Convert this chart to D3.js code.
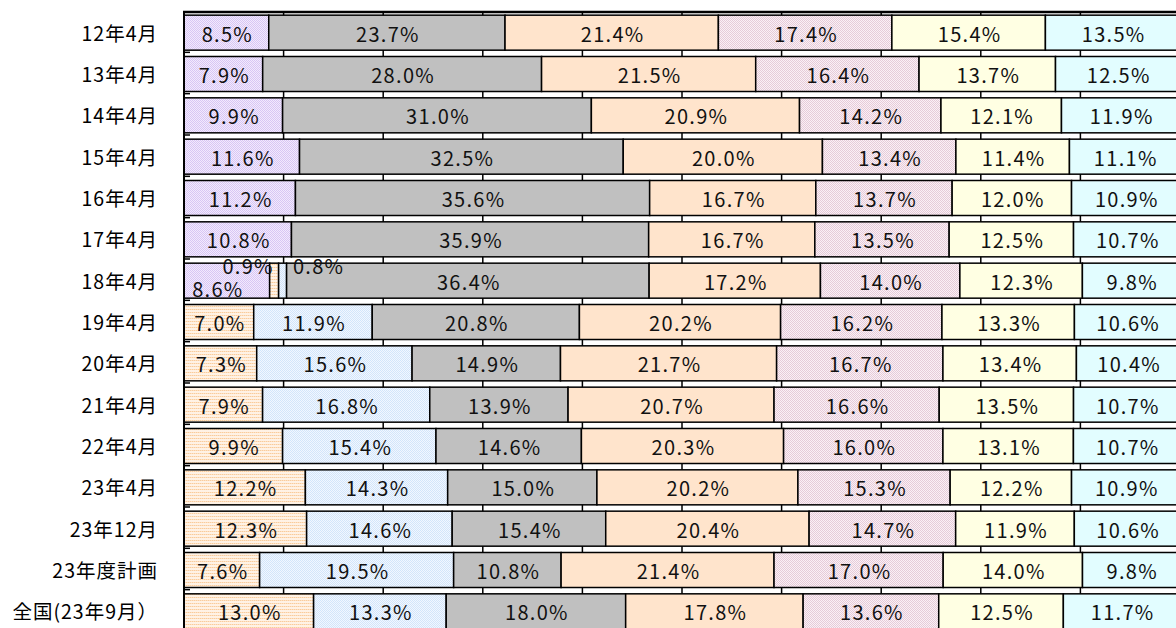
<!DOCTYPE html>
<html lang="ja">
<head>
<meta charset="UTF-8">
<title>要介護度別構成比</title>
<script src="https://d3js.org/d3.v7.min.js"></script>
<style>
    body { margin: 0; background: #fff; }
    .cat-label { font-family: "Noto Sans CJK JP", sans-serif; font-size: 19.5px; fill: #000; letter-spacing: 1px; }
    .val-label { font-family: "Noto Sans CJK JP", sans-serif; font-size: 20px; fill: #111; letter-spacing: 1.3px; }
</style>
</head>
<body>
<svg id="chart"></svg>
<script>
    // rows (top to bottom)
    const categories = ["12年4月", "13年4月", "14年4月", "15年4月", "16年4月", "17年4月", "18年4月",
        "19年4月", "20年4月", "21年4月", "22年4月", "23年4月", "23年12月", "23年度計画", "全国(23年9月）"];

    // stacked series, left to right
    const seriesNames = ["要支援", "要支援1", "要支援2", "要介護1", "要介護2", "要介護3", "要介護4", "要介護5"];

    const youshien  = [8.5, 7.9, 9.9, 11.6, 11.2, 10.8, 8.6, 0, 0, 0, 0, 0, 0, 0, 0];
    const shien1    = [0, 0, 0, 0, 0, 0, 0.9, 7.0, 7.3, 7.9, 9.9, 12.2, 12.3, 7.6, 13.0];
    const shien2    = [0, 0, 0, 0, 0, 0, 0.8, 11.9, 15.6, 16.8, 15.4, 14.3, 14.6, 19.5, 13.3];
    const kaigo1    = [23.7, 28.0, 31.0, 32.5, 35.6, 35.9, 36.4, 20.8, 14.9, 13.9, 14.6, 15.0, 15.4, 10.8, 18.0];
    const kaigo2    = [21.4, 21.5, 20.9, 20.0, 16.7, 16.7, 17.2, 20.2, 21.7, 20.7, 20.3, 20.2, 20.4, 21.4, 17.8];
    const kaigo3    = [17.4, 16.4, 14.2, 13.4, 13.7, 13.5, 14.0, 16.2, 16.7, 16.6, 16.0, 15.3, 14.7, 17.0, 13.6];
    const kaigo4    = [15.4, 13.7, 12.1, 11.4, 12.0, 12.5, 12.3, 13.3, 13.4, 13.5, 13.1, 12.2, 11.9, 14.0, 12.5];
    const kaigo5    = [13.5, 12.5, 11.9, 11.1, 10.9, 10.7, 9.8, 10.6, 10.4, 10.7, 10.7, 10.9, 10.6, 9.8, 11.7];

    const seriesValues = [youshien, shien1, shien2, kaigo1, kaigo2, kaigo3, kaigo4, kaigo5];
    const gridTicks = [10, 20, 30, 40, 50, 60, 70, 80, 90, 100];

    // fills (patterns defined below)
    const fills = ["url(#pPurple)", "url(#pPeachDot)", "url(#pBlueDot)", "#c0c0c0",
        "#ffe4cc", "url(#pPink)", "#ffffe3", "#e2fdff"];

    // manual nudges for crowded labels in 18年4月 row: [row, series, dx, dy]
    const labelNudge = [[6, 0, -10, 7], [6, 1, -27, -16], [6, 2, 35, -16]];

    const W = 1176, H = 628;
    const margin = { top: 12, left: 184 };
    const plotRight = 1180, plotBottom = 632;

    const svg = d3.select("#chart").attr("width", W).attr("height", H);

    // patterns
    const defs = svg.append("defs");
    function checker(id, light, dark) {
        const p = defs.append("pattern").attr("id", id).attr("patternUnits", "userSpaceOnUse")
            .attr("width", 2).attr("height", 2);
        p.append("rect").attr("width", 2).attr("height", 2).attr("fill", light);
        p.append("rect").attr("width", 1).attr("height", 1).attr("fill", dark);
        p.append("rect").attr("x", 1).attr("y", 1).attr("width", 1).attr("height", 1).attr("fill", dark);
    }
    checker("pPurple", "#f2eafd", "#d8c6f4");
    checker("pPink", "#faf0f5", "#e6cbd9");
    checker("pBlueDot", "#f1f7ff", "#d3e5fa");
    const pd = defs.append("pattern").attr("id", "pPeachDot").attr("patternUnits", "userSpaceOnUse")
        .attr("width", 2).attr("height", 3);
    pd.append("rect").attr("width", 2).attr("height", 3).attr("fill", "#fff2e5");
    pd.append("rect").attr("width", 1).attr("height", 1).attr("fill", "#f9cc9c");
    pd.append("rect").attr("x", 1).attr("width", 1).attr("height", 1).attr("fill", "#fde0c2");

    const x = d3.scaleLinear().domain([0, 100]).range([margin.left, plotRight]);
    const y = d3.scaleBand().domain(categories).range([margin.top, plotBottom])
        .paddingInner(0.153).paddingOuter(0.0765);

    // gridlines (visible between bars)
    svg.append("g").selectAll("line").data(gridTicks).join("line")
        .attr("x1", d => x(d)).attr("x2", d => x(d))
        .attr("y1", margin.top).attr("y2", plotBottom)
        .attr("stroke", "#000").attr("stroke-width", 1.5);

    // stacked rows, normalised to 100%
    const rows = categories.map((c, i) => {
        const vals = seriesValues.map(s => s[i]);
        const total = d3.sum(vals);
        let acc = 0;
        return vals.map((v, k) => {
            const seg = { cat: c, row: i, k: k, v: v, x0: acc / total * 100, x1: (acc + v) / total * 100 };
            acc += v;
            return seg;
        }).filter(s => s.v > 0);
    });
    const segs = rows.flat();

    svg.append("g").selectAll("rect").data(segs).join("rect")
        .attr("x", d => x(d.x0)).attr("width", d => x(d.x1) - x(d.x0))
        .attr("y", d => y(d.cat)).attr("height", y.bandwidth())
        .attr("fill", d => fills[d.k])
        .attr("stroke", "#000").attr("stroke-width", 1.5);

    // value labels
    function nudge(d) {
        const n = labelNudge.find(a => a[0] === d.row && a[1] === d.k);
        return n ? [n[2], n[3]] : [0, 0];
    }
    svg.append("g").selectAll("text").data(segs).join("text")
        .attr("class", "val-label")
        .attr("text-anchor", "middle")
        .attr("x", d => (x(d.x0) + x(d.x1)) / 2 + 1 + nudge(d)[0])
        .attr("y", d => y(d.cat) + y.bandwidth() / 2 + 9 + nudge(d)[1])
        .text(d => d.v.toFixed(1) + "%");

    // category axis labels
    svg.append("g").selectAll("text").data(categories).join("text")
        .attr("class", "cat-label")
        .attr("text-anchor", "end")
        .attr("x", 158)
        .attr("y", d => y(d) + y.bandwidth() / 2 + 8)
        .text(d => d);

    // category axis ticks (inside, at band boundaries)
    const bounds = categories.slice(1).map(c => y(c) - y.step() * y.paddingInner() / 2);
    svg.append("g").selectAll("line").data(bounds).join("line")
        .attr("x1", margin.left).attr("x2", margin.left + 6)
        .attr("y1", d => d - 1).attr("y2", d => d - 1)
        .attr("stroke", "#000").attr("stroke-width", 1.5);

    // plot frame: top and left
    svg.append("line").attr("x1", margin.left - 1).attr("x2", W)
        .attr("y1", margin.top).attr("y2", margin.top)
        .attr("stroke", "#000").attr("stroke-width", 2.5);
    svg.append("line").attr("x1", margin.left).attr("x2", margin.left)
        .attr("y1", margin.top).attr("y2", plotBottom)
        .attr("stroke", "#000").attr("stroke-width", 2);
</script>
</body>
</html>
